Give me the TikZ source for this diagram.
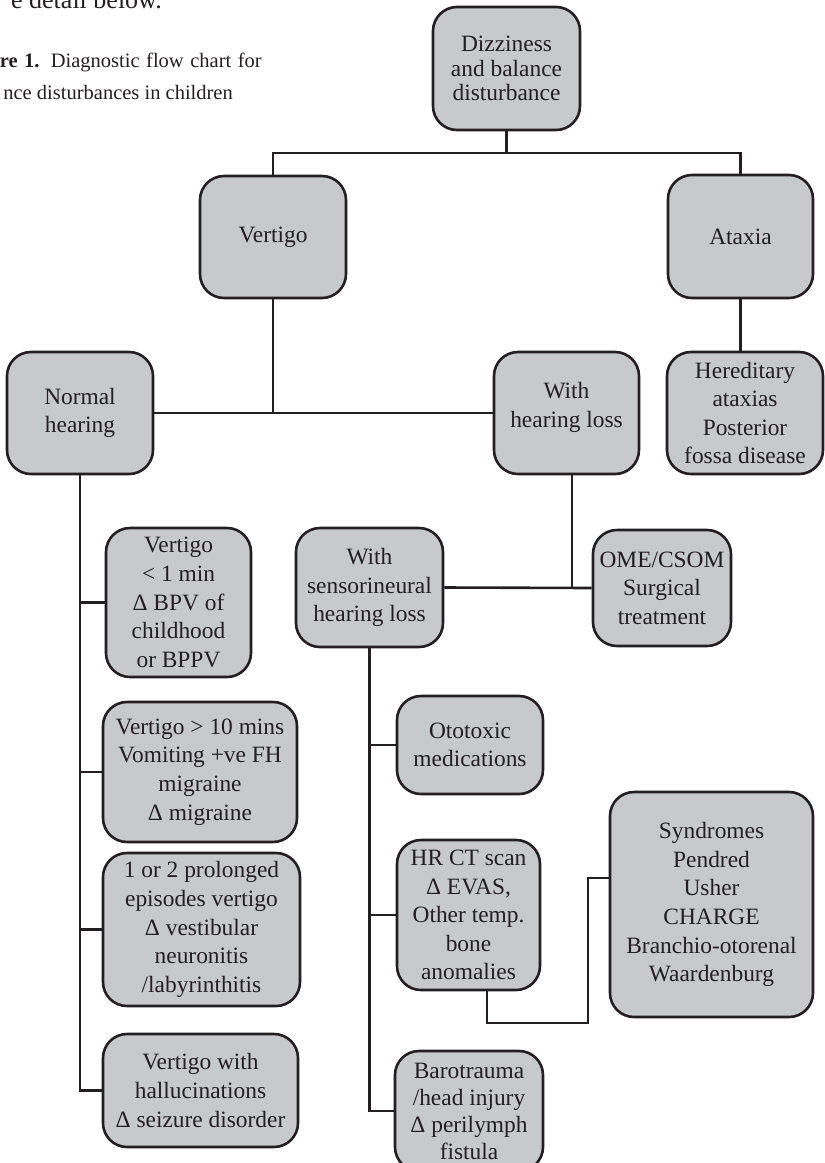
\documentclass[tikz,border=0pt]{standalone}
\usepackage{fontspec}
\setmainfont{Liberation Serif}
\definecolor{boxgray}{RGB}{200,201,203}
\definecolor{txt}{RGB}{35,31,32}
\tikzset{
  box/.style={draw=txt, line width=2.6pt, fill=boxgray, rounded corners=24pt,
    align=center, inner sep=0pt, text=txt,
    font=\fontsize{23.4}{28.6}\selectfont},
  conn/.style={draw=txt, line width=2.6pt},
  captext/.style={inner sep=0pt, text=txt, anchor=base east}
}
\begin{document}
\begin{tikzpicture}[x=1pt,y=-1pt]
\useasboundingbox (0,0) rectangle (825,1163);
\clip (0,0) rectangle (825,1163);
% page text around the figure
\node[captext, font=\fontsize{26}{30}\selectfont] (toptext) at (162,8) {e detail below.};
\node[captext, font=\fontsize{20.5}{24}\selectfont] (cap1) at (262,67) {\makebox[262pt][s]{\textbf{re 1.} Diagnostic flow chart for}};
\node[captext, font=\fontsize{20.5}{24}\selectfont] (cap2) at (233,99) {nce disturbances in children};
% boxes
\node[box, minimum width=147, minimum height=123, font=\fontsize{23.4}{24.5}\selectfont] (diz) at (506.5,68.5) {Dizziness\\and balance\\disturbance};
\node[box, minimum width=146, minimum height=122] (vert) at (273,237) {Vertigo};
\node[box, minimum width=145, minimum height=123] (atax) at (740.5,236.5) {Ataxia};
\node[box, minimum width=146, minimum height=122] (normal) at (80,413) {Normal\\hearing};
\node[box, minimum width=145, minimum height=122] (withhl) at (566.5,413) {With\\hearing loss\\[-12pt]};
\node[box, minimum width=156, minimum height=122] (hered) at (745,413) {Hereditary\\ataxias\\Posterior\\fossa disease};
\node[box, minimum width=147, minimum height=119] (snhl) at (369.5,587.5) {With\\sensorineural\\hearing loss};
\node[box, minimum width=138, minimum height=116] (ome) at (662,588) {OME/CSOM\\Surgical\\treatment};
\node[box, minimum width=145, minimum height=149] (v1) at (178.5,602.5) {Vertigo\\< 1 min\\Δ BPV of\\childhood\\or BPPV};
\node[box, minimum width=194, minimum height=140] (v10) at (200,772) {Vertigo > 10 mins\\Vomiting +ve FH\\migraine\\Δ migraine};
\node[box, minimum width=197, minimum height=153] (v12) at (201.5,929.5) {1 or 2 prolonged\\episodes vertigo\\Δ vestibular\\neuronitis\\/labyrinthitis};
\node[box, minimum width=195, minimum height=113] (vhal) at (200.5,1090.5) {Vertigo with\\hallucinations\\Δ seizure disorder};
\node[box, minimum width=146, minimum height=98] (oto) at (470,745) {Ototoxic\\medications};
\node[box, minimum width=143, minimum height=150] (hrct) at (468.5,915) {HR CT scan\\Δ EVAS,\\Other temp.\\bone\\anomalies};
\node[box, minimum width=203, minimum height=225] (synd) at (711.5,904.5) {Syndromes\\Pendred\\Usher\\CHARGE\\Branchio-otorenal\\Waardenburg};
\node[box, minimum width=148, minimum height=120, font=\fontsize{23.4}{27}\selectfont] (baro) at (469,1111) {Barotrauma\\/head injury\\Δ perilymph\\fistula};
% connectors
\coordinate (j1) at (506.5,153);
\draw[conn] (diz.south) -- (j1);
\draw[conn] (vert.north) -- (vert.north |- j1) -- (atax.north |- j1) -- (atax.north);
\draw[conn] (vert.south) -- (vert.south |- normal.east);
\draw[conn] (normal.east) -- (withhl.west);
\draw[conn] (atax.south) -- (atax.south |- hered.north);
\draw[conn] (normal.south) -- (normal.south |- vhal.west) -- (vhal.west);
\draw[conn] (normal.south |- v1.west) -- (v1.west);
\draw[conn] (normal.south |- v10.west) -- (v10.west);
\draw[conn] (normal.south |- v12.west) -- (v12.west);
\coordinate (w1) at ([xshift=5.5pt]withhl.south);
\draw[conn] (w1) -- (w1 |- ome.west);
\draw[conn] (snhl.east) -- (ome.west);
\draw[conn] (snhl.south) -- (snhl.south |- baro.west) -- (baro.west);
\draw[conn] (snhl.south |- oto.west) -- (oto.west);
\draw[conn] (snhl.south |- hrct.west) -- (hrct.west);
\coordinate (h1) at ([xshift=18.5pt]hrct.south);
\coordinate (k1) at (588,1023);
\coordinate (s1) at ([yshift=26.5pt]synd.west);
\draw[conn] (h1) |- (k1) |- (s1);
\end{tikzpicture}
\end{document}
